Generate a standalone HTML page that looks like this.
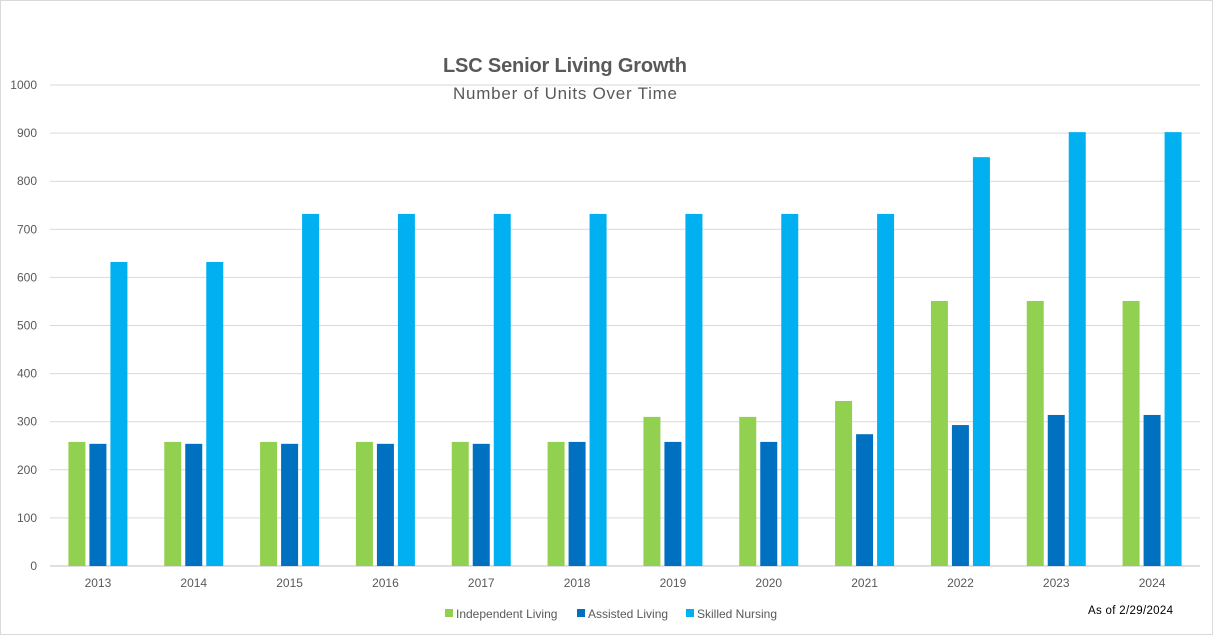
<!DOCTYPE html>
<html><head><meta charset="utf-8">
<style>
body{margin:0;background:#fff;}
svg{display:block;font-family:"Liberation Sans",sans-serif;}
</style></head>
<body>
<svg id="chart" width="1213" height="635">
<rect x="0.5" y="0.5" width="1212" height="634" fill="#fff" stroke="#d9d9d9"/>
<text x="565" y="72" text-anchor="middle" font-size="20" font-weight="bold" fill="#595959" textLength="244">LSC Senior Living Growth</text>
<text x="565" y="99" text-anchor="middle" font-size="17" fill="#595959" textLength="224">Number of Units Over Time</text>
<g id="grid"></g><g id="bars"></g><g id="xlabels"></g>
<g>
<rect x="445" y="609" width="8" height="8" fill="#92d050"/>
<text x="456" y="618" font-size="12" fill="#595959">Independent Living</text>
<rect x="577" y="609" width="8" height="8" fill="#0070c0"/>
<text x="588" y="618" font-size="12" fill="#595959">Assisted Living</text>
<rect x="686" y="609" width="8" height="8" fill="#00b0f0"/>
<text x="697" y="618" font-size="12" fill="#595959">Skilled Nursing</text>
</g>
<text x="1088" y="614" font-size="11.5" fill="#000" textLength="85">As of 2/29/2024</text>
</svg>
<script>
const categories=["2013","2014","2015","2016","2017","2018","2019","2020","2021","2022","2023","2024"];
const independent=[258,258,258,258,258,258,310,310,343,551,551,551];
const assisted=[254,254,254,254,254,258,258,258,274,293,314,314];
const skilled=[632,632,732,732,732,732,732,732,732,850,902,902];
const yTicks=[0,100,200,300,400,500,600,700,800,900,1000];
const NS="http://www.w3.org/2000/svg";
const y0=566,y1=85,x0=50,x1=1200;
const yScale=v=>y0-(v/1000)*(y0-y1);
const step=(x1-x0)/categories.length;
const xCenter=i=>x0+step*(i+0.5);
function mk(tag,attrs,parent){const e=document.createElementNS(NS,tag);for(const k in attrs)e.setAttribute(k,attrs[k]);parent.appendChild(e);return e;}
const grid=document.getElementById('grid');
yTicks.forEach(t=>{
  const l=mk('line',{x1:x0,x2:x1,y1:yScale(t),y2:yScale(t),stroke:t===0?'#bfbfbf':'#d9d9d9'},grid);
  
  
  const tx=mk('text',{x:37,y:yScale(t)+4,'text-anchor':'end','font-size':12,fill:'#595959'},grid);
  tx.textContent=t;
  
  
});
const bars=document.getElementById('bars'),xl=document.getElementById('xlabels');
const series=[[independent,'#92d050','independent',-21],[assisted,'#0070c0','assisted',0],[skilled,'#00b0f0','skilled',21]];
categories.forEach((c,i)=>{
  series.forEach(([vals,col,name,off])=>{
    const r=mk('rect',{x:xCenter(i)+off-8.5,y:yScale(vals[i]),width:17,height:y0-yScale(vals[i]),fill:col},bars);
    
    
  });
  const t=mk('text',{x:xCenter(i),y:587,'text-anchor':'middle','font-size':12,fill:'#595959'},xl);
  t.textContent=c;
  
  
});
</script>
</body></html>
